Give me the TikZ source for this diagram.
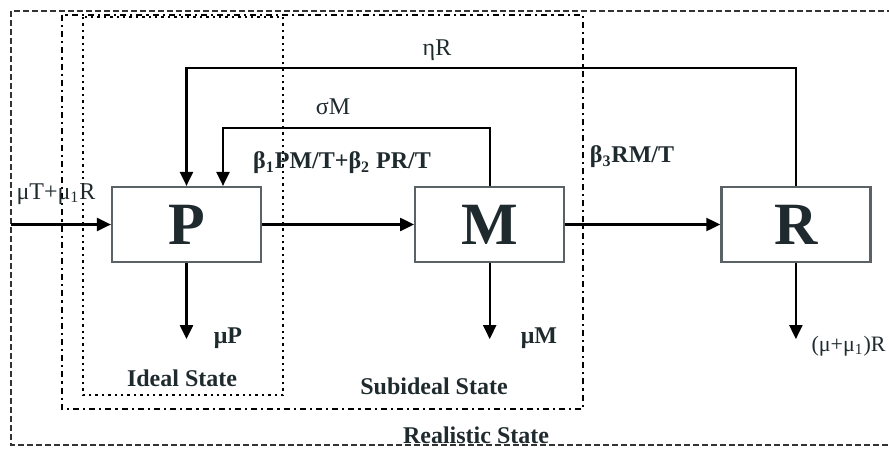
\documentclass[tikz,border=0pt]{standalone}
\usepackage{fontspec}
\setmainfont{Liberation Serif}
\usetikzlibrary{arrows.meta,positioning,calc}
\definecolor{ink}{HTML}{1E2A2E}
\definecolor{edge}{HTML}{5A6266}
\tikzset{>={Triangle[length=7pt,width=6.5pt]},
  box/.style={draw=edge,line width=1.1pt,minimum width=74.5pt,minimum height=37.5pt,inner sep=0pt,
    font=\fontsize{30}{30}\selectfont\bfseries,text=ink},
  flow/.style={draw=black,line width=1.1pt,->},
  lab/.style={font=\fontsize{12}{13}\selectfont,text=ink,inner sep=1pt},
  blab/.style={lab,font=\fontsize{12}{13}\selectfont\bfseries},
  ideal/.style={draw=black,line width=1.2pt,dotted},
  subideal/.style={draw=black,line width=1.1pt,dash dot},
  real/.style={draw=black!80,line width=0.9pt,dash pattern=on 3pt off 1.5pt}}

\begin{document}
\begin{tikzpicture}[x=0.5pt,y=-0.5pt]
  \clip (0,0) rectangle (889,450);
  % state regions
  \draw[real] (11,11) rectangle (900,445);
  \draw[subideal] (62,15) rectangle (583,409);
  \draw[ideal] (83,17) rectangle (283,395);
  \node[blab] (lIdeal) at (182,378) {Ideal State};
  \node[blab] (lSub) at (434,386) {Subideal State};
  \node[blab] (lReal) at (476,435) {Realistic State};
  % compartments
  \node[box] (P) at (186.5,224.5) {P};
  \node[box,right=76pt of P] (M) {M};
  \node[box,right=77.5pt of M] (R) {R};
  \coordinate (in) at (11,224.5);
  \coordinate (eta) at (437,68);
  \coordinate (sig) at (333,128);
  \coordinate (Pin) at ($(P.north)+(36.5,0)$);
  \coordinate (Pout) at ($(P.south)+(0,76)$);
  \coordinate (Mout) at ($(M.south)+(0,76)$);
  \coordinate (Rout) at ($(R.south)+(0,76)$);
  % flows
  \draw[flow] (in) -- (P.west);
  \draw[flow] (P.east) -- (M.west);
  \draw[flow] (M.east) -- (R.west);
  \draw[flow] (R.north) |- (eta) -| (P.north);
  \draw[flow] (M.north) |- (sig) -| (Pin);
  \draw[flow] (P.south) -- (Pout);
  \draw[flow] (M.south) -- (Mout);
  \draw[flow] (R.south) -- (Rout);
  \node[lab] (lIn) at (56,194) {μT+μ\textsubscript{1}R};
  \node[blab] (lPM) at (342,163) {β\textsubscript{1}PM/T+β\textsubscript{2} PR/T};
  \node[blab] (lRM) at (632,157) {β\textsubscript{3}RM/T};
  \node[lab] (lEta) at (437,50) {ηR};
  \node[lab] (lSig) at (333,107) {σM};
  \node[blab] (lP) at (228,338) {μP};
  \node[blab] (lM) at (539,338) {μM};
  \node[lab,anchor=east,font=\fontsize{11}{12}\selectfont] (lR) at (888,346) {(μ+μ\textsubscript{1})R};
\end{tikzpicture}
\end{document}
